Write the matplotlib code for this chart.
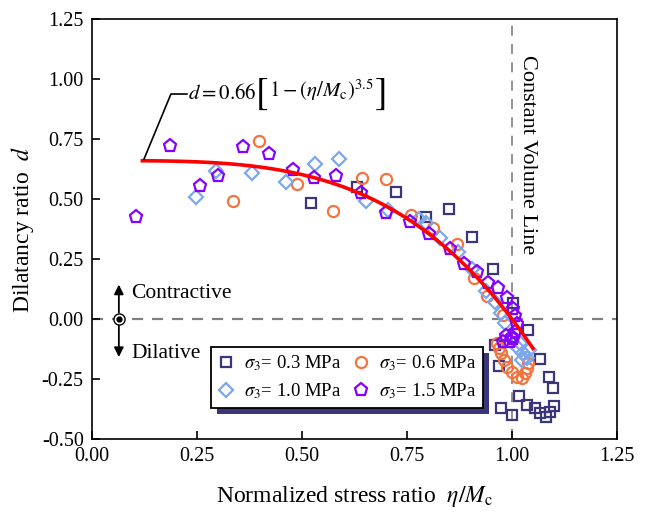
#!/usr/bin/env python3
"""Dilatancy ratio vs normalized stress ratio, four confining pressures."""

import numpy as np
import matplotlib
matplotlib.use("Agg")
import matplotlib.pyplot as plt
from matplotlib.patches import Rectangle

plt.rcParams['font.family'] = ['Liberation Serif', 'DejaVu Serif']
plt.rcParams['mathtext.fontset'] = 'stix'

# sigma3 = 0.3 MPa (squares)
eta_03 = [0.521, 0.630, 0.723, 0.795, 0.850, 0.906, 0.955, 1.003, 1.039, 0.960,
          0.970, 1.067, 1.087, 1.097, 1.017, 1.035, 0.975, 1.001, 1.055, 1.067,
          1.082, 1.090, 1.100]
d_03 = [0.485, 0.550, 0.529, 0.425, 0.457, 0.343, 0.207, 0.065, -0.046, -0.108,
        -0.196, -0.168, -0.240, -0.289, -0.321, -0.358, -0.372, -0.400, -0.372, -0.393,
        -0.407, -0.386, -0.363]

# sigma3 = 0.6 MPa (circles)
eta_06 = [0.335, 0.398, 0.487, 0.573, 0.642, 0.700, 0.759, 0.812, 0.869, 0.910,
          0.940, 0.978, 0.964, 0.968, 0.975, 0.980, 0.987, 0.999, 1.011, 1.023,
          1.031, 1.035, 1.037]
d_06 = [0.492, 0.743, 0.561, 0.451, 0.588, 0.582, 0.433, 0.381, 0.313, 0.170,
        0.095, 0.017, -0.101, -0.122, -0.143, -0.171, -0.199, -0.219, -0.240, -0.247,
        -0.226, -0.205, -0.185]

# sigma3 = 1.0 MPa (diamonds)
eta_10 = [0.248, 0.295, 0.382, 0.462, 0.532, 0.589, 0.652, 0.706, 0.778, 0.795,
          0.829, 0.871, 0.905, 0.937, 0.960, 0.975, 0.983, 1.015, 1.027, 1.035,
          1.023, 1.040, 1.020]
d_10 = [0.510, 0.617, 0.607, 0.571, 0.647, 0.667, 0.490, 0.454, 0.418, 0.400,
        0.336, 0.280, 0.210, 0.118, 0.070, 0.024, -0.018, -0.122, -0.143, -0.164,
        -0.171, -0.130, -0.100]

# sigma3 = 1.5 MPa (pentagons)
eta_15 = [0.106, 0.186, 0.257, 0.299, 0.360, 0.421, 0.478, 0.529, 0.580, 0.640,
          0.700, 0.757, 0.803, 0.852, 0.886, 0.916, 0.944, 0.967, 0.988, 1.003,
          1.007, 1.011, 1.007, 0.985, 0.978, 0.995, 1.003, 1.000]
d_15 = [0.426, 0.720, 0.554, 0.596, 0.715, 0.687, 0.621, 0.586, 0.597, 0.526,
        0.440, 0.405, 0.355, 0.290, 0.228, 0.197, 0.152, 0.128, 0.086, 0.040,
        0.012, -0.020, -0.055, -0.070, -0.095, -0.094, -0.085, -0.075]

# fitted curve parameters
D0 = 0.66
EXPONENT = 3.5
ETA_FIT_RANGE = (0.12, 1.05)

fig = plt.figure(figsize=(6.5, 5.14), dpi=100)
ax = fig.add_axes([0.1415, 0.1459, 0.8077, 0.8171])

# reference lines
ax.axhline(0, color='#808080', lw=1.6, dashes=(5, 4), zorder=1)
ax.axvline(1.0, color='#808080', lw=1.2, dashes=(6, 5), zorder=1)

mk = dict(linestyle='none', mfc='none', mew=1.6)
h1, = ax.plot(eta_03, d_03, marker='s', ms=6.5, mec='#3b3679', label=r'$\sigma_3$= 0.3 MPa', **mk)
h2, = ax.plot(eta_06, d_06, marker='o', ms=8, mec='#f4743f', label=r'$\sigma_3$= 0.6 MPa', **mk)
h3, = ax.plot(eta_10, d_10, marker='D', ms=7, mec='#7ca7ec', label=r'$\sigma_3$= 1.0 MPa', **mk)
h4, = ax.plot(eta_15, d_15, marker='p', ms=9.5, mec='#8400ff', label=r'$\sigma_3$= 1.5 MPa', **mk)

# fitted curve
eta = np.linspace(ETA_FIT_RANGE[0], ETA_FIT_RANGE[1], 200)
ax.plot(eta, D0 * (1 - eta ** EXPONENT), color='#ff0000', lw=2.6, zorder=5)

# formula with leader line, tall brackets built from pieces
ax.plot([0.124, 0.188, 0.226], [0.667, 0.9375, 0.9375], color='k', lw=1.2, zorder=6)
f1 = ax.text(0.228, 0.9375, r'$d = 0.66$', fontsize=15, ha='left', va='center')
f2 = ax.annotate(r'$[$', xy=(1, 0.5), xycoords=f1, xytext=(-1, 0), textcoords='offset points',
                 fontsize=27, ha='left', va='center')
f3 = ax.annotate(r'$1-(\eta/M_{\rm c})^{3.5}$', xy=(1, 0.5), xycoords=f2,
                 xytext=(0.5, 3), textcoords='offset points',
                 fontsize=15, ha='left', va='center')
ax.annotate(r'$]$', xy=(1, 0.5), xycoords=f3, xytext=(0.5, -3), textcoords='offset points',
            fontsize=27, ha='left', va='center')

# contractive / dilative indicator
ax.annotate('', xy=(0.064, 0.155), xytext=(0.064, 0.015),
            arrowprops=dict(arrowstyle='-|>', color='k', lw=1.3, mutation_scale=14))
ax.annotate('', xy=(0.064, -0.17), xytext=(0.064, -0.015),
            arrowprops=dict(arrowstyle='-|>', color='k', lw=1.3, mutation_scale=14))
ax.plot([0.064], [0], marker='o', ms=8, mfc='white', mec='k', mew=1.0, zorder=7)
ax.plot([0.064], [0], marker='o', ms=3.5, mfc='k', mec='k', zorder=8)
ax.text(0.093, 0.108, 'Contractive', fontsize=15.5, ha='left', va='center')
ax.text(0.093, -0.142, 'Dilative', fontsize=15.5, ha='left', va='center')

ax.text(1.036, 1.10, 'Constant Volume Line', fontsize=16, rotation=-90,
        ha='center', va='top')

ax.set_xlim(0, 1.25)
ax.set_ylim(-0.5, 1.25)
ax.set_xticks([0.0, 0.25, 0.5, 0.75, 1.0, 1.25])
ax.set_yticks([-0.5, -0.25, 0.0, 0.25, 0.5, 0.75, 1.0, 1.25])
ax.xaxis.set_major_formatter(matplotlib.ticker.FormatStrFormatter('%.2f'))
ax.yaxis.set_major_formatter(matplotlib.ticker.FormatStrFormatter('%.2f'))
ax.tick_params(direction='in', length=6, width=1.2, labelsize=14.5, pad=6,
               top=False, right=False)
for s in ax.spines.values():
    s.set_linewidth(1.2)

ax.set_xlabel(r'Normalized stress ratio  $\eta/M_{\rm c}$', fontsize=17, labelpad=13)
ax.set_ylabel(r'Dilatancy ratio  $d$', fontsize=17, labelpad=4)

leg = ax.legend(handles=[h1, h3, h2, h4], ncol=2, loc='lower left',
                bbox_to_anchor=(0.2267, 0.074), fontsize=13.5, frameon=True,
                fancybox=False, framealpha=1, edgecolor='k',
                handlelength=0.9, handletextpad=0.5, columnspacing=0.6,
                borderpad=0.35, labelspacing=0.45, borderaxespad=0)
leg.get_frame().set_linewidth(1.3)
leg.set_zorder(10)

# offset dark shadow behind the legend box
fig.canvas.draw()
bb = leg.get_window_extent()
ax.add_patch(Rectangle((bb.x0 + 6, bb.y0 - 6), bb.width, bb.height, transform=None,
                       facecolor='#3b3679', edgecolor='none', zorder=9.5, clip_on=False))

plt.savefig('out.png', dpi=100)
